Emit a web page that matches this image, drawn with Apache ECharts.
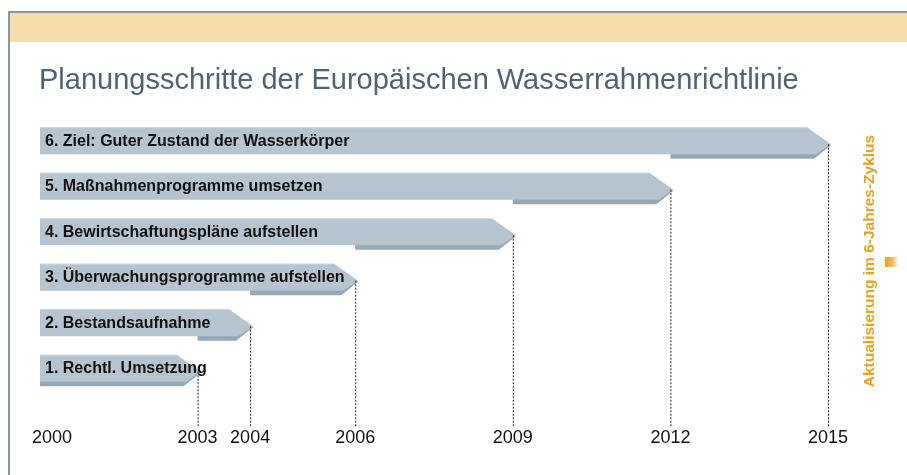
<!DOCTYPE html>
<html>
<head>
<meta charset="UTF-8">
<title>Planungsschritte WRRL</title>
<script src="https://cdn.jsdelivr.net/npm/echarts@6/dist/echarts.min.js"></script>
<style>
  html, body { margin: 0; padding: 0; background: #fff; }
  #main { width: 907px; height: 475px; }
</style>
</head>
<body>
<div id="main"></div>
<script>
// steps, bottom to top
const steps = [
    '1. Rechtl. Umsetzung',
    '2. Bestandsaufnahme',
    '3. Überwachungsprogramme aufstellen',
    '4. Bewirtschaftungspläne aufstellen',
    '5. Maßnahmenprogramme umsetzen',
    '6. Ziel: Guter Zustand der Wasserkörper'
];
const startYear = 2000;
const endYears = [2003, 2004, 2006, 2009, 2012, 2015];
// darker underside starts where the previous step ended
const shadeFrom = [2000, 2003, 2004, 2006, 2009, 2012];
const tickYears = [2000, 2003, 2004, 2006, 2009, 2012, 2015];

const data = steps.map((s, i) => [i, startYear, endYears[i], shadeFrom[i]]);

function renderItem(params, api) {
    var i = api.value(0);
    var s = api.coord([api.value(1), i]);
    var e = api.coord([api.value(2), i]);
    var sh = api.coord([api.value(3), i]);
    var T = e[1] - 15.5;
    var x0 = s[0], xe = e[0] + 3, xs = sh[0];
    var bottomY = params.coordSys.y + params.coordSys.height + 34;
    return {
        type: 'group',
        children: [
            {
                type: 'polygon',
                shape: { points: [[xs, T + 5], [xe - 20, T + 5], [xe, T + 18], [xe - 17, T + 31.5], [xs, T + 31.5]] },
                style: { fill: '#95a8b5' }
            },
            {
                type: 'polygon',
                shape: { points: [[x0, T], [xe - 24, T], [xe, T + 17], [xe - 15, T + 27], [x0, T + 27]] },
                style: { fill: '#b5c4cf' }
            },
            {
                type: 'line',
                shape: { x1: x0, y1: T + 0.5, x2: xe - 24, y2: T + 0.5 },
                style: { stroke: '#c9d4dc', lineWidth: 1 }
            },
            {
                type: 'line',
                shape: { x1: e[0] + 0.5, y1: T + 17, x2: e[0] + 0.5, y2: bottomY },
                style: { stroke: '#222', lineWidth: 1, lineDash: [2, 1.5] }
            },
            {
                type: 'text',
                style: {
                    text: steps[i],
                    x: x0 + 5,
                    y: T + 14,
                    verticalAlign: 'middle',
                    fill: '#111',
                    font: 'bold 16px "Liberation Sans", Arial, sans-serif'
                }
            }
        ]
    };
}

const chart = echarts.init(document.getElementById('main'));

chart.setOption({
    animation: false,
    backgroundColor: '#fff',
    title: {
        text: 'Planungsschritte der Europäischen Wasserrahmenrichtlinie',
        left: 34,
        top: 61,
        textStyle: {
            fontFamily: '"Liberation Sans", Arial, sans-serif',
            fontSize: 29,
            fontWeight: 'normal',
            color: '#4e6373'
        }
    },
    graphic: [
        { type: 'rect', shape: { x: 8, y: 11, width: 899, height: 2 }, style: { fill: '#8398a7' } },
        { type: 'rect', shape: { x: 8, y: 11, width: 2, height: 464 }, style: { fill: '#8398a7' } },
        { type: 'rect', shape: { x: 10, y: 13, width: 897, height: 29 }, style: { fill: '#f5dcaa' } },
        {
            type: 'text',
            x: 870, y: 261,
            rotation: Math.PI / 2,
            style: {
                text: 'Aktualisierung im 6-Jahres-Zyklus',
                align: 'center',
                verticalAlign: 'middle',
                fill: '#e6a31c',
                font: 'bold 15.5px "Liberation Sans", Arial, sans-serif'
            }
        },
        {
            type: 'rect',
            shape: { x: 885, y: 257, width: 14, height: 10 },
            style: {
                fill: new echarts.graphic.LinearGradient(0, 0, 1, 0, [
                    { offset: 0, color: '#e6a31c' },
                    { offset: 0.5, color: '#eebc5c' },
                    { offset: 1, color: '#fff' }
                ])
            }
        }
    ],
    grid: { left: 40, right: 79, top: 120, bottom: 82 },
    xAxis: {
        type: 'value',
        min: 2000,
        max: 2015,
        interval: 1,
        axisLine: { show: false },
        axisTick: { show: false },
        splitLine: { show: false },
        axisLabel: {
            margin: 36,
            fontSize: 18,
            color: '#111',
            fontFamily: '"Liberation Sans", Arial, sans-serif',
            formatter: function (v) {
                if (tickYears.indexOf(v) < 0) return '';
                return v === 2000 ? '{first|' + v + '}' : String(v);
            },
            rich: {
                first: { fontSize: 18, color: '#111', padding: [0, 0, 0, 24] }
            }
        }
    },
    yAxis: {
        type: 'category',
        data: steps,
        show: false
    },
    series: [{
        type: 'custom',
        renderItem: renderItem,
        encode: { x: [1, 2, 3], y: 0 },
        data: data
    }]
});
</script>
</body>
</html>
